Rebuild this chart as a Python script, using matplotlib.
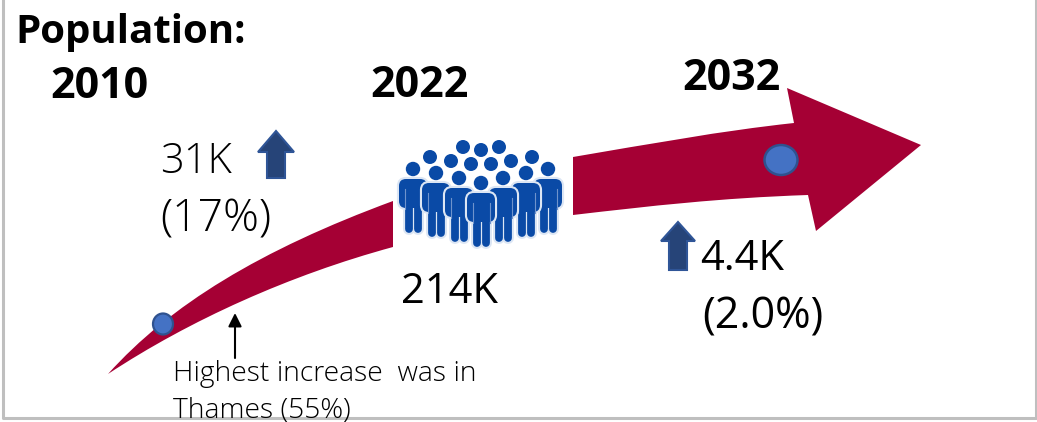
import matplotlib
matplotlib.use('Agg')
import matplotlib.pyplot as plt
from matplotlib.patches import Circle, Ellipse, FancyBboxPatch, PathPatch, Polygon
from matplotlib.path import Path

plt.rcParams['font.family'] = ['Open Sans', 'DejaVu Sans']

# labels
title = 'Population:'
years = ['2010', '2022', '2032']
change_2022 = ['31K', '(17%)']
total_2022 = '214K'
change_2032 = ['4.4K', '(2.0%)']
note = ['Highest increase  was in', 'Thames (55%)']

CRIMSON = '#A50034'
ICON = '#0A4AA6'

fig = plt.figure(figsize=(10.37, 4.22), dpi=100)
ax = fig.add_axes([0, 0, 1, 1])
ax.set_xlim(0, 1037)
ax.set_ylim(422, 0)
ax.axis('off')

# panel border
ax.plot([3, 3, 1036, 1036], [0, 418, 418, 0], color='#BFBFBF', lw=2.2, zorder=1)

# curved tail of the arrow
tail = Path(
    [(108, 374), (170, 305), (260, 250), (393, 201), (393, 247), (290, 275), (190, 320), (108, 374), (108, 374)],
    [Path.MOVETO, Path.CURVE4, Path.CURVE4, Path.CURVE4, Path.LINETO, Path.CURVE4, Path.CURVE4, Path.CURVE4, Path.CLOSEPOLY],
)
ax.add_patch(PathPatch(tail, fc=CRIMSON, ec='none', zorder=2))

# arrow head and shaft
head = Path(
    [(573, 157), (650, 144), (720, 131), (794, 123), (787, 88), (921, 145), (816, 231), (808, 195),
     (720, 198), (650, 206), (573, 215), (573, 157)],
    [Path.MOVETO, Path.CURVE4, Path.CURVE4, Path.CURVE4, Path.LINETO, Path.LINETO, Path.LINETO, Path.LINETO,
     Path.CURVE4, Path.CURVE4, Path.CURVE4, Path.CLOSEPOLY],
)
ax.add_patch(PathPatch(head, fc=CRIMSON, ec='none', zorder=2))

# markers on the arrow
ax.add_patch(Ellipse((163, 324), 20, 21, fc='#4472C4', ec='#2F528F', lw=1.6, zorder=3))
ax.add_patch(Ellipse((781, 160), 33, 30, fc='#4472C4', ec='#2F528F', lw=1.8, zorder=3))


def up_arrow(cx, top, bottom, half_head, half_shaft, head_h):
    pts = [(cx, top), (cx + half_head, top + head_h), (cx + half_shaft, top + head_h), (cx + half_shaft, bottom),
           (cx - half_shaft, bottom), (cx - half_shaft, top + head_h), (cx - half_head, top + head_h)]
    ax.add_patch(Polygon(pts, closed=True, fc='#264478', ec='#2F5597', lw=1.5, zorder=3))


up_arrow(276, 131, 178, 18, 9, 21)
up_arrow(678, 222, 270, 17, 9, 19)

# thin pointer above the note
ax.annotate('', xy=(235, 313), xytext=(235, 358),
            arrowprops=dict(arrowstyle='-|>', color='black', lw=1.5, mutation_scale=20, shrinkA=0, shrinkB=0), zorder=3)


def person(cx, cy, z):
    # pale halo first so overlapping figures stay separate
    for colour, extra in [('#DCE6F4', 3.0), (ICON, 0)]:
        ax.add_patch(FancyBboxPatch((cx - 14, cy + 10), 28, 29, boxstyle='round,pad=0,rounding_size=7',
                                    fc=colour, ec=colour, lw=extra, zorder=z))
        for dx in (-4.5, 4.5):
            ax.plot([cx + dx, cx + dx], [cy + 36, cy + 60], color=colour, lw=5.6 + extra,
                    solid_capstyle='round', zorder=z)
    # slits between arms and torso
    for dx in (-8.5, 8.5):
        ax.plot([cx + dx, cx + dx], [cy + 20, cy + 40], color='#6F93CC', lw=0.8, zorder=z)
    ax.add_patch(Circle((cx, cy), 7.2, fc=ICON, ec='none', zorder=z))


# back row heads, then figures from the outside in
for x, y in [(430, 157), (451, 161), (463, 147), (481, 150), (499, 147), (471, 164), (491, 164), (511, 161), (532, 157)]:
    ax.add_patch(Circle((x, y), 7, fc=ICON, ec='none', zorder=4))
for z, (x, y) in enumerate([(413, 169), (548, 169), (436, 173), (526, 173), (459, 178), (503, 178), (481, 183)]):
    person(x, y, 4 + z * 0.01)

# text
ax.text(15, 43, title, fontsize=29, fontweight='bold', color='black', zorder=5)
ax.text(50, 98, years[0], fontsize=31, fontweight='bold', color='black', zorder=5)
ax.text(370, 97, years[1], fontsize=31, fontweight='bold', color='black', zorder=5)
ax.text(682, 90, years[2], fontsize=31, fontweight='bold', color='black', zorder=5)
ax.text(160, 173, change_2022[0], fontsize=30, fontweight='light', color='black', zorder=5)
ax.text(160, 231, change_2022[1], fontsize=32, fontweight='light', color='black', zorder=5)
ax.text(401, 303, total_2022, fontsize=30, color='black', zorder=5)
ax.text(700, 270, change_2032[0], fontsize=30, color='black', zorder=5)
ax.text(702, 329, change_2032[1], fontsize=31, color='black', zorder=5)
ax.text(173, 381, note[0], fontsize=20.3, fontweight='light', color='black', zorder=5)
ax.text(173, 418, note[1], fontsize=20.3, fontweight='light', color='black', zorder=5)

plt.savefig('out.png', dpi=100)
